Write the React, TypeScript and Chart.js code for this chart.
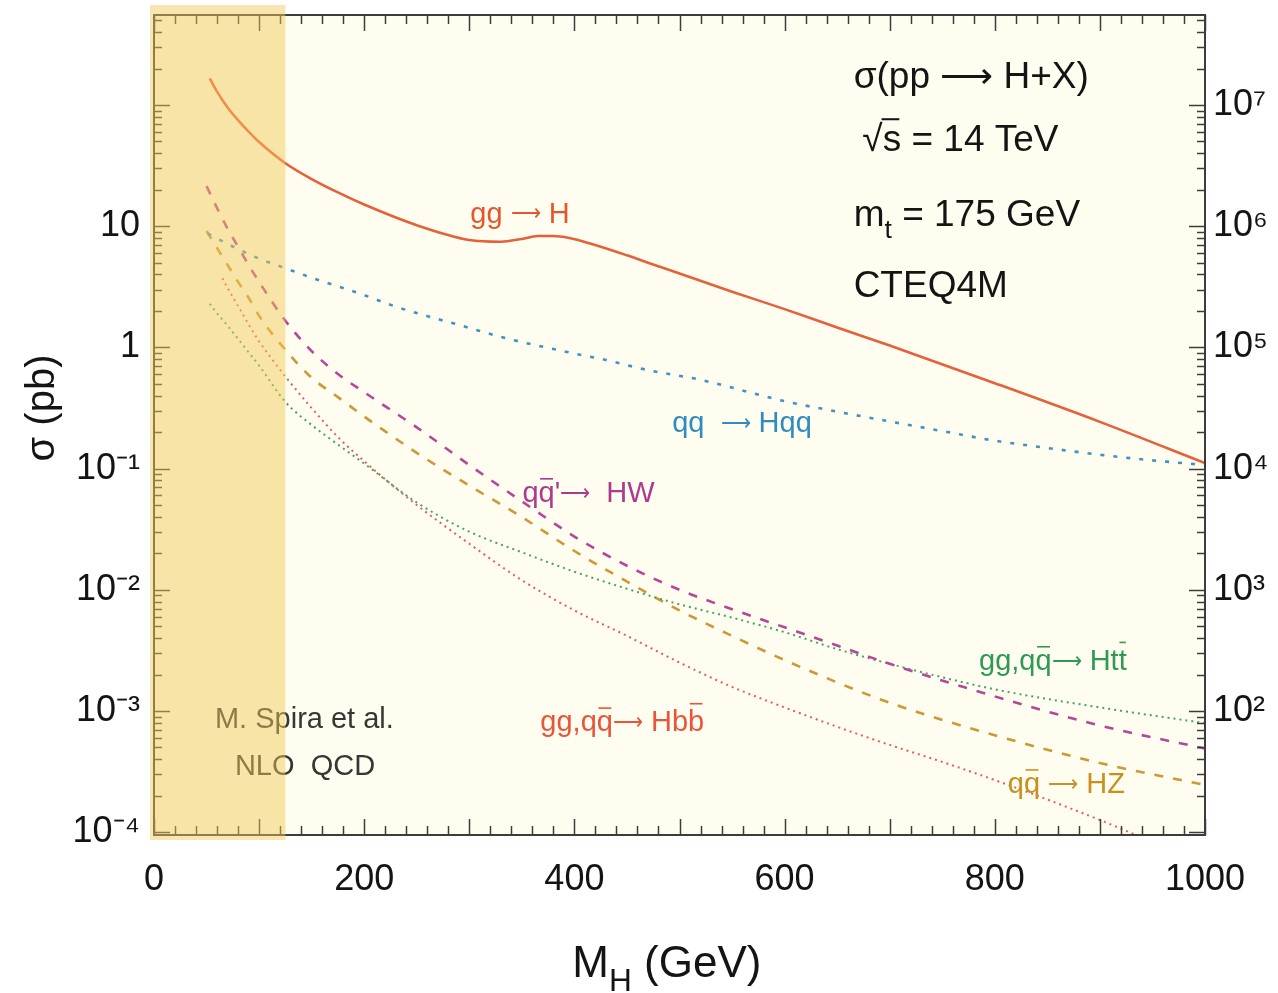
import React, { useEffect, useRef } from 'react';
import { Chart, registerables } from 'chart.js';

Chart.register(...registerables);

const FONT = '"Liberation Sans", Arial, Helvetica, sans-serif';
const TEXT = '#141414';
const FRAME_COLOR = '#3c3c3c';
const PLOT_BG = '#fffdf0';
const BAND_COLOR = 'rgba(242, 200, 88, 0.47)';

// ---------- axes ----------
const X_MIN = 0;
const X_MAX = 1000;
const X_MINOR_STEP = 20;
const X_MAJOR_STEP = 100;
const Y_MIN = 9.48e-5; // pb
const Y_MAX = 553; // pb
const LUMI = 1e5; // events per pb (right-hand axis)
const BAND_MAX = 125; // GeV, excluded region

const xTickValues = [0, 200, 400, 600, 800, 1000];
const xTickLabels = ['0', '200', '400', '600', '800', '1000'];
const leftTickValues = [10, 1, 0.1, 0.01, 0.001, 0.0001];
const leftTickLabels = ['10', '1', '10⁻¹', '10⁻²', '10⁻³', '10⁻⁴'];
const rightTickValues = [1e7, 1e6, 1e5, 1e4, 1e3, 1e2];
const rightTickLabels = ['10⁷', '10⁶', '10⁵', '10⁴', '10³', '10²'];

// ---------- data: sigma (pb) vs M_H (GeV) ----------
const massGGH = [53, 60, 70, 80, 90, 100, 125, 150, 175, 200, 250, 300, 330, 350, 365, 380, 395, 415, 450, 470, 500, 550, 600, 650, 700, 800, 900, 1000];
const sigmaGGH = [166, 129, 95.5, 75, 60.3, 49.5, 33.1, 24.5, 19, 15.1, 10.2, 7.7, 7.45, 7.85, 8.3, 8.3, 8.0, 7.2, 5.75, 5.0, 4.07, 2.88, 2.07, 1.46, 1.035, 0.507, 0.243, 0.111];

const massVBF = [51, 75, 100, 125, 150, 200, 230, 300, 330, 400, 430, 470, 520, 600, 650, 700, 750, 800, 850, 900, 950, 1000];
const sigmaVBF = [8.7, 6.8, 5.4, 4.5, 3.76, 2.7, 2.17, 1.45, 1.22, 0.89, 0.787, 0.65, 0.54, 0.36, 0.295, 0.245, 0.204, 0.17, 0.148, 0.13, 0.117, 0.107];

const massHW = [50, 60, 70, 80, 90, 100, 125, 150, 175, 200, 250, 300, 350, 400, 450, 500, 550, 600, 650, 700, 800, 900, 1000];
const sigmaHW = [21.4, 14.1, 9.55, 6.76, 4.79, 3.47, 1.66, 0.933, 0.603, 0.427, 0.219, 0.107, 0.0537, 0.0275, 0.0158, 0.01, 0.00692, 0.0049, 0.00347, 0.00245, 0.00132, 0.000759, 0.00049];

const massHZ = [50, 60, 70, 80, 90, 100, 125, 150, 175, 200, 250, 300, 350, 400, 450, 500, 550, 600, 700, 800, 900, 1000];
const sigmaHZ = [9.12, 6.61, 4.79, 3.47, 2.57, 1.82, 0.955, 0.562, 0.389, 0.269, 0.135, 0.0724, 0.0398, 0.0209, 0.0117, 0.00676, 0.00417, 0.00263, 0.00117, 0.000631, 0.000372, 0.000245];

const massHtt = [53, 60, 70, 80, 90, 100, 125, 150, 175, 200, 250, 300, 350, 400, 450, 500, 550, 600, 650, 700, 800, 900, 1000];
const sigmaHtt = [2.29, 1.91, 1.51, 1.175, 0.912, 0.708, 0.355, 0.229, 0.158, 0.11, 0.0525, 0.0302, 0.0204, 0.0141, 0.0102, 0.00759, 0.00589, 0.00447, 0.00324, 0.00245, 0.00151, 0.00107, 0.000794];

const massHbb = [65, 70, 80, 90, 100, 110, 125, 150, 175, 200, 250, 300, 350, 400, 450, 500, 550, 600, 650, 700, 750, 800, 850, 900, 950, 1000];
const sigmaHbb = [3.72, 3.09, 2.19, 1.55, 1.12, 0.851, 0.575, 0.316, 0.182, 0.115, 0.0501, 0.024, 0.012, 0.00676, 0.00417, 0.00251, 0.00158, 0.00107, 0.000741, 0.000525, 0.00038, 0.000269, 0.000186, 0.000126, 0.0000832, 0.000055];

const series = [
  { label: 'gg → H', m: massGGH, s: sigmaGGH, color: '#e4613b', width: 2.6, dash: [] as number[] },
  { label: 'qq → Hqq', m: massVBF, s: sigmaVBF, color: '#3f93c2', width: 2.6, dash: [4, 9] },
  { label: "qq̄' → HW", m: massHW, s: sigmaHW, color: '#b5479b', width: 2.6, dash: [9, 10] },
  { label: 'gg,qq̄ → Htt̄', m: massHtt, s: sigmaHtt, color: '#43a465', width: 2, dash: [2, 4] },
  { label: 'gg,qq̄ → Hbb̄', m: massHbb, s: sigmaHbb, color: '#e25f5b', width: 2, dash: [2, 4] },
  { label: 'qq̄ → HZ', m: massHZ, s: sigmaHZ, color: '#cc9934', width: 2.6, dash: [9, 10] },
];

// ---------- text annotations (anchored in data space: M_H, sigma) ----------
type Part = { t: string; sub?: boolean; scale?: number; dy?: number; bar?: number; barExt?: number };
const ARROW: Part = { t: '⟶', scale: 0.72, dy: -0.08 };

const curveLabels: { parts: Part[]; m: number; s: number; color: string }[] = [
  { parts: [{ t: 'gg ' }, ARROW, { t: ' H' }], m: 301, s: 10.7, color: '#e4572e' },
  { parts: [{ t: 'qq  ' }, ARROW, { t: ' Hqq' }], m: 493, s: 0.2, color: '#2f8bc1' },
  { parts: [{ t: 'q' }, { t: 'q', bar: 0.8 }, { t: "'" }, ARROW, { t: '  HW' }], m: 350.5, s: 0.053, color: '#ad3a8c' },
  { parts: [{ t: 'gg,q' }, { t: 'q', bar: 0.8 }, ARROW, { t: ' Ht' }, { t: 't', bar: 0.95 }], m: 785, s: 0.00218, color: '#2e9a55' },
  { parts: [{ t: 'gg,q' }, { t: 'q', bar: 0.8 }, ARROW, { t: ' Hb' }, { t: 'b', bar: 0.95 }], m: 367.6, s: 0.00068, color: '#e8553a' },
  { parts: [{ t: 'q' }, { t: 'q', bar: 0.8 }, { t: ' ' }, ARROW, { t: ' HZ' }], m: 812.4, s: 0.00021, color: '#c8911f' },
];
const creditLabels: { parts: Part[]; m: number; s: number }[] = [
  { parts: [{ t: 'M. Spira et al.' }], m: 58, s: 0.00073 },
  { parts: [{ t: 'NLO  QCD' }], m: 77, s: 0.000294 },
];
const infoLabels: { parts: Part[]; m: number; s: number }[] = [
  { parts: [{ t: 'σ(pp ⟶ H+X)' }], m: 665.7, s: 138 },
  { parts: [{ t: '√' }, { t: 's', bar: 0.86, barExt: 0.08 }, { t: ' = 14 TeV' }], m: 674, s: 41.7 },
  { parts: [{ t: 'm' }, { t: 't', sub: true }, { t: ' = 175 GeV' }], m: 665.7, s: 10.05 },
  { parts: [{ t: 'CTEQ4M' }], m: 665.7, s: 2.6 },
];

function partSize(p: Part, size: number) {
  return p.sub ? size * 0.72 : size * (p.scale ?? 1);
}

function drawParts(ctx: CanvasRenderingContext2D, parts: Part[], x: number, y: number, size: number, color: string, align: 'left' | 'center') {
  ctx.fillStyle = color;
  ctx.strokeStyle = color;
  ctx.textAlign = 'left';
  ctx.textBaseline = 'alphabetic';
  const widths = parts.map((p) => {
    ctx.font = `${partSize(p, size)}px ${FONT}`;
    return ctx.measureText(p.t).width;
  });
  const total = widths.reduce((a, b) => a + b, 0);
  let cx = align === 'center' ? x - total / 2 : x;
  parts.forEach((p, k) => {
    ctx.font = `${partSize(p, size)}px ${FONT}`;
    const dy = p.sub ? size * 0.32 : (p.dy ?? 0) * size;
    ctx.fillText(p.t, cx, y + dy);
    if (p.bar) {
      const w = widths[k];
      ctx.lineWidth = Math.max(1.3, size * 0.055);
      ctx.beginPath();
      ctx.moveTo(cx + w * 0.1 - (p.barExt ?? 0) * size, y - p.bar * size);
      ctx.lineTo(cx + w * 0.9, y - p.bar * size);
      ctx.stroke();
    }
    cx += widths[k];
  });
}

const decorPlugin = {
  id: 'decor',
  beforeDraw(chart: any) {
    const { ctx, chartArea: a } = chart;
    ctx.save();
    ctx.fillStyle = '#ffffff';
    ctx.fillRect(0, 0, chart.width, chart.height);
    ctx.fillStyle = PLOT_BG;
    ctx.fillRect(a.left, a.top, a.right - a.left, a.bottom - a.top);
    ctx.restore();
  },
  afterDraw(chart: any) {
    const { ctx, chartArea: a, scales } = chart;
    const xs = scales.x;
    const ys = scales.y;
    ctx.save();

    // inward tick marks on all four sides
    ctx.strokeStyle = FRAME_COLOR;
    ctx.lineWidth = 1.5;
    ctx.beginPath();
    for (let m = X_MIN; m <= X_MAX; m += X_MINOR_STEP) {
      const px = Math.round(xs.getPixelForValue(m)) + 0.5;
      const len = m % X_MAJOR_STEP === 0 ? 16 : 9;
      ctx.moveTo(px, a.bottom);
      ctx.lineTo(px, a.bottom - len);
      ctx.moveTo(px, a.top);
      ctx.lineTo(px, a.top + len);
    }
    for (let e = -5; e <= 3; e++) {
      for (let k = 1; k <= 9; k++) {
        const v = k * Math.pow(10, e);
        if (v < Y_MIN || v > Y_MAX) continue;
        const py = Math.round(ys.getPixelForValue(v)) + 0.5;
        const len = k === 1 ? 16 : 8;
        ctx.moveTo(a.left, py);
        ctx.lineTo(a.left + len, py);
        ctx.moveTo(a.right, py);
        ctx.lineTo(a.right - len, py);
      }
    }
    ctx.stroke();

    // frame
    ctx.lineWidth = 2;
    ctx.strokeRect(a.left, a.top, a.right - a.left, a.bottom - a.top);

    // labels
    for (const l of curveLabels) {
      drawParts(ctx, l.parts, xs.getPixelForValue(l.m), ys.getPixelForValue(l.s), 29, l.color, 'left');
    }
    for (const l of creditLabels) {
      drawParts(ctx, l.parts, xs.getPixelForValue(l.m), ys.getPixelForValue(l.s), 29, '#363636', 'left');
    }
    for (const l of infoLabels) {
      drawParts(ctx, l.parts, xs.getPixelForValue(l.m), ys.getPixelForValue(l.s), 37, TEXT, 'left');
    }

    // axis titles
    drawParts(ctx, [{ t: 'M' }, { t: 'H', sub: true }, { t: ' (GeV)' }], xs.getPixelForValue(488), a.bottom + 142, 44, TEXT, 'center');
    ctx.save();
    ctx.translate(54, (a.top + a.bottom) / 2 - 17);
    ctx.rotate(-Math.PI / 2);
    drawParts(ctx, [{ t: 'σ (pb)' }], 0, 0, 40, TEXT, 'center');
    ctx.restore();

    // excluded low-mass band (drawn on top, translucent)
    const bx0 = xs.getPixelForValue(X_MIN) - 4;
    const bx1 = xs.getPixelForValue(BAND_MAX);
    ctx.fillStyle = BAND_COLOR;
    ctx.fillRect(bx0, a.top - 10, bx1 - bx0, a.bottom - a.top + 15);
    ctx.restore();
  },
};

export default function App() {
  const canvasRef = useRef<HTMLCanvasElement | null>(null);

  useEffect(() => {
    const canvas = canvasRef.current;
    if (!canvas) return;
    const tickFont = { size: 36, family: FONT };
    const chart = new Chart(canvas, {
      type: 'line',
      data: {
        datasets: series.map((s) => ({
          label: s.label,
          data: s.m.map((m, i) => ({ x: m, y: s.s[i] })),
          borderColor: s.color,
          backgroundColor: s.color,
          borderWidth: s.width,
          borderDash: s.dash,
          pointRadius: 0,
          fill: false,
          cubicInterpolationMode: 'monotone' as const,
          xAxisID: 'x',
          yAxisID: 'y',
        })),
      },
      options: {
        animation: false,
        responsive: false,
        devicePixelRatio: 1,
        events: [],
        layout: { padding: { top: 15, left: 0, right: 0, bottom: 0 } },
        plugins: { legend: { display: false }, tooltip: { enabled: false } },
        scales: {
          x: {
            type: 'linear',
            position: 'bottom',
            min: X_MIN,
            max: X_MAX,
            grid: { display: false, drawTicks: false },
            border: { display: false },
            ticks: {
              font: tickFont,
              color: TEXT,
              padding: 23,
              maxRotation: 0,
              autoSkip: false,
              callback: (_v: any, i: number) => xTickLabels[i] ?? '',
            },
            afterBuildTicks: (sc: any) => {
              sc.ticks = xTickValues.map((v) => ({ value: v }));
            },
            afterFit: (sc: any) => {
              sc.height = 158;
              sc.paddingLeft = 0;
              sc.paddingRight = 0;
            },
          },
          y: {
            type: 'logarithmic',
            position: 'left',
            min: Y_MIN,
            max: Y_MAX,
            grid: { display: false, drawTicks: false },
            border: { display: false },
            ticks: {
              font: tickFont,
              color: TEXT,
              padding: 14,
              autoSkip: false,
              callback: (_v: any, i: number) => leftTickLabels[i] ?? '',
            },
            afterBuildTicks: (sc: any) => {
              sc.ticks = leftTickValues.map((v) => ({ value: v }));
            },
            afterFit: (sc: any) => {
              sc.width = 154;
              sc.paddingTop = 0;
              sc.paddingBottom = 0;
            },
          },
          y2: {
            type: 'logarithmic',
            position: 'right',
            min: Y_MIN * LUMI,
            max: Y_MAX * LUMI,
            grid: { display: false, drawTicks: false },
            border: { display: false },
            ticks: {
              font: tickFont,
              color: TEXT,
              padding: 8,
              autoSkip: false,
              callback: (_v: any, i: number) => rightTickLabels[i] ?? '',
            },
            afterBuildTicks: (sc: any) => {
              sc.ticks = rightTickValues.map((v) => ({ value: v }));
            },
            afterFit: (sc: any) => {
              sc.width = 73;
              sc.paddingTop = 0;
              sc.paddingBottom = 0;
            },
          },
        },
      } as any,
      plugins: [decorPlugin],
    });
    return () => chart.destroy();
  }, []);

  return (
    <div style={{ position: 'fixed', left: 0, top: 0, width: 1278, height: 993, background: '#ffffff' }}>
      <canvas ref={canvasRef} width={1278} height={993} style={{ display: 'block' }} />
    </div>
  );
}
